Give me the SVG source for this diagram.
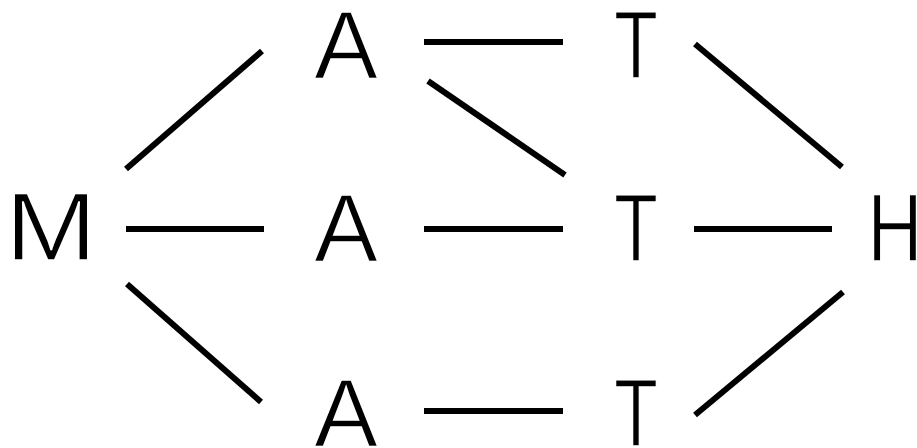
<svg xmlns="http://www.w3.org/2000/svg" width="917" height="448" viewBox="0 0 917 448">
<style>
.n text{font-family:"Liberation Sans",Arial,sans-serif;font-size:96px;fill:#000;text-anchor:middle;stroke:#fff;stroke-width:1.6px}
.e line{stroke:#000;stroke-width:6;stroke-linecap:butt}
</style>
<rect width="917" height="448" fill="#fff"/>
<g id="edges" class="e">
<line x1="126" y1="169" x2="262" y2="51"/>
<line x1="126" y1="229" x2="264" y2="229"/>
<line x1="127" y1="284" x2="261" y2="402"/>
<line x1="424" y1="42" x2="563" y2="42"/>
<line x1="428" y1="81" x2="565" y2="175"/>
<line x1="424" y1="229" x2="563" y2="229"/>
<line x1="424" y1="411" x2="563" y2="411"/>
<line x1="695" y1="44" x2="842" y2="167"/>
<line x1="694" y1="229" x2="832" y2="229"/>
<line x1="695" y1="415" x2="843" y2="292"/>
</g>
<g id="M" class="n"><text transform="translate(51,260) scale(1.15,1)">M</text></g>
<g id="A1" class="n"><text x="346" y="78">A</text></g>
<g id="A2" class="n"><text x="346" y="261">A</text></g>
<g id="A3" class="n"><text x="346" y="446">A</text></g>
<g id="T1" class="n"><text transform="translate(636,78) scale(0.75,1)">T</text></g>
<g id="T2" class="n"><text transform="translate(636,261) scale(0.75,1)">T</text></g>
<g id="T3" class="n"><text transform="translate(636,446) scale(0.75,1)">T</text></g>
<g id="H" class="n"><text transform="translate(895,261) scale(0.8,1)">H</text></g>
</svg>
